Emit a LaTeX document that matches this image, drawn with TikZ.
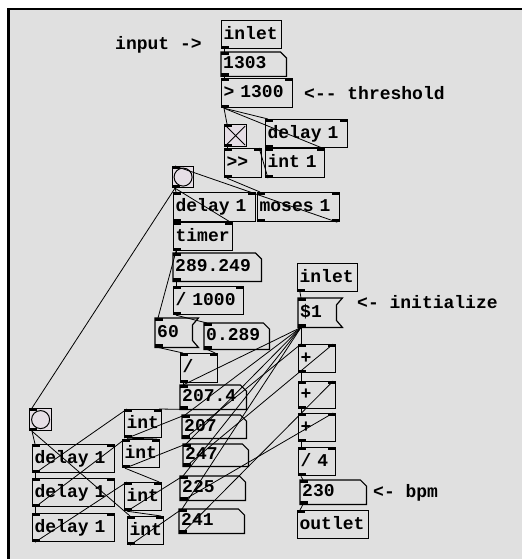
\documentclass[tikz,border=0pt]{standalone}
\usepackage{fontspec}
\setmonofont{Liberation Mono}
\usetikzlibrary{calc}

\definecolor{pdbg}{RGB}{224,224,224}
\definecolor{pdgui}{RGB}{230,222,230}

\tikzset{
  pdfont/.style={font=\ttfamily\bfseries\fontsize{18}{20}\selectfont},
  pdbox/.style 2 args={pdfont, anchor=north west, inner sep=0pt,
    text width=#1pt, minimum height=#2pt, text height=13pt, text depth=4pt,
    align=left, execute at begin node=\hspace*{2pt}},
  obj/.style 2 args={pdbox={#1}{#2}, draw, line width=1.2pt},
  numbox/.style 2 args={pdbox={#1}{#2}},
  msgbox/.style 2 args={pdbox={#1}{#2}},
  gui/.style={anchor=north west, inner sep=0pt, minimum size=#1pt, draw,
    line width=1.2pt, fill=pdgui},
  wire/.style={line width=0.8pt},
  comment/.style={pdfont, anchor=west, inner sep=0pt},
}

\begin{document}
\begin{tikzpicture}[x=1pt,y=-1pt]
% window
\fill[white] (0,0) rectangle (522,559);
\fill[black] (7,8) rectangle (522,559);
\fill[pdbg] (9.5,10.5) rectangle (522,559);
\useasboundingbox (0,0) rectangle (522,559);

% threshold detector
\node[obj={60}{28}] (inletA) at (221,20) {inlet};
\node[numbox={65}{24}] (n1303) at (221,52) {1303};
\node[obj={71}{29}] (gt) at (221,78) {> 1300};
\node[gui=22] (tgl) at (224,124) {};
\node[obj={82}{28}] (delayR) at (265,119) {delay 1};
\node[obj={37}{29}] (shr) at (224,148) {>>};
\node[obj={59}{29}] (int1R) at (265,148) {int 1};

% timing
\node[gui=21] (bangT) at (172,166) {};
\node[obj={82}{29}] (delayM) at (173,192) {delay 1};
\node[obj={82}{29}] (moses) at (257,192) {moses 1};
\node[obj={59}{28}] (timer) at (173,222) {timer};
\node[numbox={88}{28}] (n289) at (173,253) {289.249};
\node[obj={70}{28}] (div1000) at (173,286) {/ 1000};
\node[msgbox={43}{29}] (msg60) at (155,318) {60};
\node[numbox={65}{26}] (n0289) at (204,323) {0.289};
\node[obj={37}{29}] (div) at (180,353) {/};
\node[numbox={66}{24}] (n2074) at (180,385) {207.4};

% shift register
\node[gui=22] (bangL) at (29,408) {};
\node[obj={82}{28}] (delayA) at (32,444) {delay 1};
\node[obj={82}{28}] (delayB) at (32,478) {delay 1};
\node[obj={82}{28}] (delayC) at (32,513) {delay 1};
\node[obj={37}{28}] (int1) at (124,409) {int};
\node[obj={37}{28}] (int2) at (122,439) {int};
\node[obj={37}{28}] (int3) at (124,482) {int};
\node[obj={36}{28}] (int4) at (127,516) {int};
\node[numbox={64}{23}] (n207) at (182,415) {207};
\node[numbox={65}{22}] (n247) at (183,444) {247};
\node[numbox={65}{24}] (n225) at (180,476) {225};
\node[numbox={65}{24}] (n241) at (179,509) {241};

% average
\node[obj={60}{28}] (inletB) at (297,263) {inlet};
\node[msgbox={44}{29}] (msg1) at (298,298) {\$1};
\node[obj={37}{28}] (plus1) at (298,344) {+};
\node[obj={37}{27}] (plus2) at (298,381) {+};
\node[obj={37}{28}] (plus3) at (298,413) {+};
\node[obj={37}{28}] (div4) at (298,447) {/ 4};
\node[numbox={66}{24}] (n230) at (300,480) {230};
\node[obj={71}{28}] (outlet) at (297,510) {outlet};

% comments
\node[comment] (cin) at (115,45) {input ->};
\node[comment] (cthr) at (304,93) {<-- threshold};
\node[comment] (cini) at (357,302) {<- initialize};
\node[comment] (cbpm) at (373,493) {<- bpm};

% box outlines
\foreach \n in {n1303,n289,n0289,n2074,n207,n247,n225,n241,n230}
  \draw[line width=1.2pt] (\n.north west) -- ([xshift=-6pt]\n.north east)
    -- ([yshift=-6pt]\n.north east) -- (\n.south east) -- (\n.south west) -- cycle;
\foreach \n in {msg60,msg1}
  \draw[line width=1.2pt] (\n.north west) -- (\n.north east)
    -- ([xshift=-6pt,yshift=-7pt]\n.north east) -- ([xshift=-6pt,yshift=7pt]\n.south east)
    -- (\n.south east) -- (\n.south west) -- cycle;
\draw[line width=0.8pt] ([shift={(2pt,-2pt)}]tgl.north west) -- ([shift={(-2pt,2pt)}]tgl.south east)
  ([shift={(-2pt,-2pt)}]tgl.north east) -- ([shift={(2pt,2pt)}]tgl.south west);
\foreach \n in {bangT,bangL}
  \draw[line width=1pt,fill=pdgui] (\n.center) circle (9pt);

% inlets and outlets
\foreach \n in {n1303,gt,tgl,delayR,shr,int1R,bangT,delayM,moses,timer,n289,div1000,
    msg1,msg60,n0289,div,n2074,bangL,int1,n207,int2,n247,delayA,delayB,delayC,
    int3,n225,int4,n241,plus1,plus2,plus3,div4,n230,outlet}
  \fill (\n.north west) rectangle ++(8,3);
\foreach \n in {gt,delayR,shr,int1R,delayM,moses,timer,div1000,div,int1,int2,int3,int4,
    delayA,delayB,delayC,plus1,plus2,plus3,div4}
  \fill (\n.north east) rectangle ++(-8,3);
\foreach \n in {inletA,n1303,gt,tgl,delayR,shr,int1R,bangT,delayM,moses,timer,n289,
    div1000,msg1,msg60,n0289,div,n2074,bangL,int1,n207,int2,n247,delayA,delayB,
    delayC,int3,n225,int4,n241,inletB,plus1,plus2,plus3,div4,n230}
  \fill (\n.south west) rectangle ++(8,-3);
\fill (moses.south east) rectangle ++(-8,-3);

% connections to left inlets
\foreach \a/\b in {inletA/n1303,n1303/gt,gt/tgl,gt/delayR,tgl/shr,delayR/int1R,
    shr/moses,bangT/delayM,bangT/bangL,delayM/timer,timer/n289,timer/msg60,
    n289/div1000,div1000/n0289,msg60/div,div/n2074,inletB/msg1,msg1/n2074,
    msg1/n207,msg1/n247,msg1/n225,msg1/n241,msg1/plus1,bangL/delayA,
    delayA/delayB,delayB/delayC,bangL/int4,delayA/int1,delayB/int2,delayC/int3,
    int1/n207,int2/n247,int3/n225,int4/n241,n207/plus1,plus1/plus2,plus2/plus3,
    plus3/div4,div4/n230,n230/outlet}
  \draw[wire] ([xshift=3pt]\a.south west) -- ([xshift=3pt]\b.north west);

% connections to right inlets
\foreach \a/\b in {gt/int1R,int1R/shr,bangT/timer,n0289/div,n2074/int1,int1/int2,
    int2/int3,int3/int4,n247/plus1,n241/plus2,n225/plus3}
  \draw[wire] ([xshift=3pt]\a.south west) -- ([xshift=-3pt]\b.north east);

% feedback from moses
\draw[wire] ([xshift=-3pt]moses.south east) -- ([xshift=3pt]bangT.north west);
\end{tikzpicture}
\end{document}
